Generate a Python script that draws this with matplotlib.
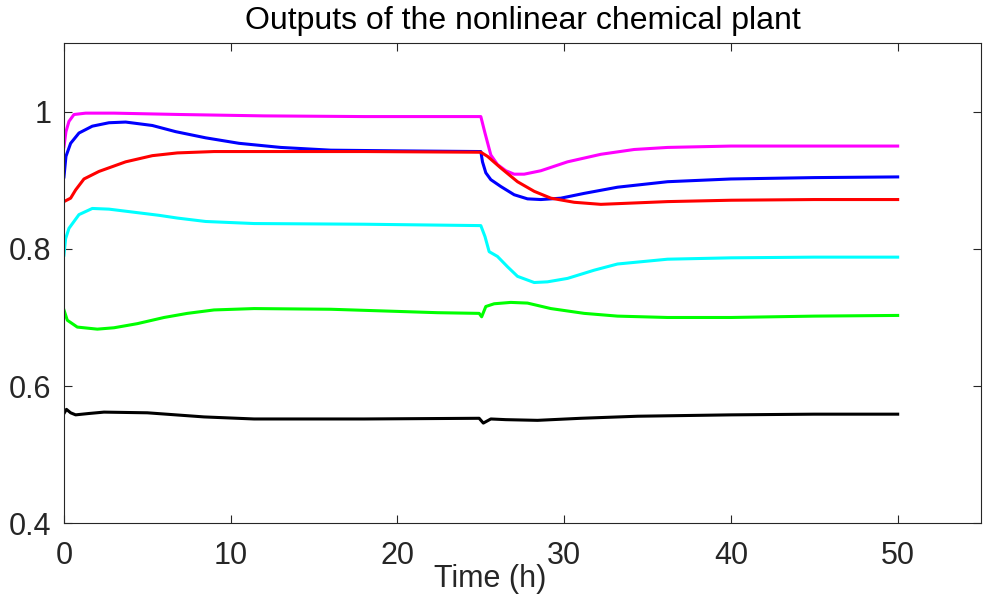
import numpy as np
import matplotlib.pyplot as plt

plt.rcParams['font.family'] = ['Liberation Sans', 'DejaVu Sans']

# values (time in hours)
t_magenta = [0, 0.12, 0.3, 0.6, 1.3, 3, 7, 12, 18, 25, 25.25, 25.6, 26.0, 26.5, 27.0, 27.6, 28.6, 30.2, 32.2, 34.2, 36.2, 40, 45, 50]
y_magenta = [0.949, 0.971, 0.986, 0.996, 0.998, 0.998, 0.996, 0.994, 0.993, 0.993, 0.969, 0.937, 0.923, 0.914, 0.909, 0.909, 0.914, 0.927, 0.938, 0.945, 0.948, 0.950, 0.950, 0.950]

t_blue = [0, 0.12, 0.4, 0.9, 1.7, 2.7, 3.7, 5.3, 6.7, 8.5, 10.5, 13, 16, 20, 25, 25.1, 25.3, 25.6, 26.2, 27.0, 27.8, 28.6, 29.8, 31.2, 33.2, 36.2, 40, 45, 50]
y_blue = [0.905, 0.935, 0.954, 0.969, 0.979, 0.984, 0.985, 0.980, 0.971, 0.962, 0.954, 0.948, 0.944, 0.943, 0.942, 0.927, 0.911, 0.901, 0.891, 0.879, 0.873, 0.872, 0.874, 0.881, 0.890, 0.898, 0.902, 0.904, 0.905]

t_red = [0, 0.4, 0.7, 1.2, 2.1, 3.7, 5.3, 6.8, 9, 12, 18, 25, 25.4, 26.2, 27.2, 28.2, 29.2, 30.6, 32.2, 34.2, 36.2, 40, 45, 50]
y_red = [0.869, 0.874, 0.886, 0.902, 0.913, 0.927, 0.936, 0.940, 0.942, 0.942, 0.942, 0.941, 0.935, 0.918, 0.898, 0.884, 0.874, 0.868, 0.865, 0.867, 0.869, 0.871, 0.872, 0.872]

t_cyan = [0, 0.1, 0.3, 0.9, 1.7, 2.7, 4.7, 5.7, 6.8, 8.5, 11.4, 18, 25, 25.25, 25.5, 26.0, 26.6, 27.2, 28.2, 29.0, 30.2, 31.8, 33.2, 36.2, 40, 45, 50]
y_cyan = [0.791, 0.815, 0.830, 0.850, 0.859, 0.858, 0.852, 0.849, 0.845, 0.840, 0.837, 0.836, 0.834, 0.818, 0.796, 0.789, 0.774, 0.760, 0.751, 0.752, 0.757, 0.769, 0.778, 0.785, 0.787, 0.788, 0.788]

t_green = [0, 0.2, 0.8, 2.0, 3.0, 4.4, 6, 7.4, 9, 11.4, 16, 22.4, 24.9, 25.05, 25.3, 25.8, 26.8, 27.8, 29.2, 31.2, 33.2, 36.2, 40, 45, 50]
y_green = [0.711, 0.696, 0.686, 0.683, 0.685, 0.691, 0.700, 0.706, 0.711, 0.713, 0.712, 0.707, 0.706, 0.701, 0.716, 0.720, 0.722, 0.721, 0.713, 0.706, 0.702, 0.700, 0.700, 0.702, 0.703]

t_black = [0, 0.15, 0.4, 0.7, 1.5, 2.4, 5.0, 8.4, 11.4, 18, 24.9, 25.15, 25.6, 26.5, 28.4, 31, 34.4, 40, 45, 50]
y_black = [0.560, 0.566, 0.561, 0.558, 0.560, 0.562, 0.561, 0.555, 0.552, 0.552, 0.553, 0.546, 0.552, 0.551, 0.550, 0.553, 0.556, 0.558, 0.559, 0.559]

series = [
    (t_magenta, y_magenta, '#ff00ff'),
    (t_blue, y_blue, '#0000ff'),
    (t_red, y_red, '#ff0000'),
    (t_cyan, y_cyan, '#00ffff'),
    (t_green, y_green, '#00ff00'),
    (t_black, y_black, '#000000'),
]

fig = plt.figure(figsize=(9.84, 6), dpi=100)
ax = fig.add_axes([0.065, 0.128, 0.932, 0.8])

for t, y, c in series:
    ax.plot(t, y, color=c, lw=2.2, solid_joinstyle='round')

ax.set_xlim(0, 55)
ax.set_ylim(0.4, 1.1)
ax.set_xticks([0, 10, 20, 30, 40, 50])
ax.set_yticks([0.4, 0.6, 0.8, 1.0])
ax.set_yticklabels(['0.4', '0.6', '0.8', '1'])
ax.tick_params(direction='in', top=True, right=True, labelsize=22, length=6,
               color='#262626', labelcolor='#262626')
ax.tick_params(axis='x', pad=13)
ax.tick_params(axis='y', pad=9)
for s in ax.spines.values():
    s.set_color('#262626')
    s.set_linewidth(0.8)

ax.set_title('Outputs of the nonlinear chemical plant', fontsize=23, color='black', pad=10)
ax.set_xlabel('Time (h)', fontsize=22, color='#262626')
ax.xaxis.set_label_coords(0.4646, -0.086)

fig.savefig('out.png', dpi=100)
